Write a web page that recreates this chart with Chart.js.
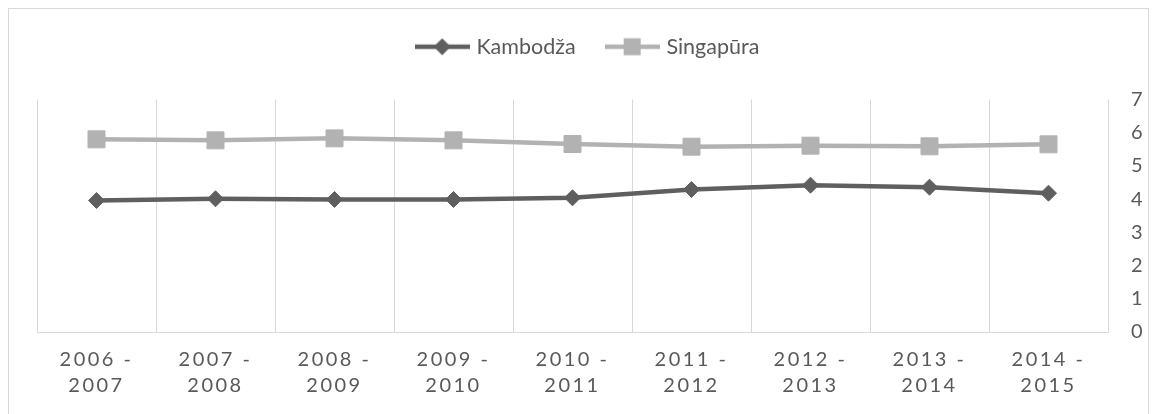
<!DOCTYPE html>
<html>
<head>
<meta charset="utf-8">
<script src="https://cdn.jsdelivr.net/npm/chart.js@4"></script>
<style>
html,body{margin:0;padding:0;background:#fff;}
canvas{display:block;}
</style>
</head>
<body>
<canvas id="c" width="1157" height="414"></canvas>
<script>
const categories = [
  ['2006 -', '2007'], ['2007 -', '2008'], ['2008 -', '2009'],
  ['2009 -', '2010'], ['2010 -', '2011'], ['2011 -', '2012'],
  ['2012 -', '2013'], ['2013 -', '2014'], ['2014 -', '2015']
];
const kambodza = [3.96, 4.01, 3.99, 3.99, 4.04, 4.29, 4.42, 4.36, 4.18];
const singapura = [5.80, 5.77, 5.83, 5.77, 5.66, 5.58, 5.61, 5.59, 5.65];
const seriesNames = ['Kambodža', 'Singapūra'];
const yTicks = [0, 1, 2, 3, 4, 5, 6, 7];

const darkColor = '#5f5f5f';
const lightColor = '#b2b2b2';
const textColor = '#595959';
const gridColor = '#d9d9d9';
const FONT = 'Lato, "Open Sans", sans-serif';

function legendIcon(color, shape) {
  const cv = document.createElement('canvas');
  cv.width = 55; cv.height = 22;
  const g = cv.getContext('2d');
  g.strokeStyle = color; g.fillStyle = color; g.lineWidth = 4.5;
  g.beginPath(); g.moveTo(0, 11); g.lineTo(55, 11); g.stroke();
  g.beginPath();
  if (shape === 'diamond') {
    g.moveTo(27.5, 2.5); g.lineTo(36, 11); g.lineTo(27.5, 19.5); g.lineTo(19, 11); g.closePath();
  } else {
    g.rect(19, 2.5, 17, 17);
  }
  g.fill();
  return cv;
}
const icons = [legendIcon(darkColor, 'diamond'), legendIcon(lightColor, 'square')];

const framePlugin = {
  id: 'frame',
  beforeLayout(chart) {
    const lg = chart.legend;
    if (lg && !lg._extraPatched) {
      const f = lg.fit.bind(lg);
      lg.fit = function () { f(); if (this.height > 0) this.height += 32; };
      const d = lg.draw.bind(lg);
      lg.draw = function () {
        const ctx = this.ctx;
        ctx.save();
        ctx.translate(-8, 0);
        d();
        ctx.restore();
      };
      lg._extraPatched = true;
    }
  },
  afterLayout(chart) {
    const s = chart.scales.x;
    if (s && !s._lsPatched) {
      const orig = s.drawLabels.bind(s);
      s.drawLabels = function (ca) {
        const ctx = this.ctx;
        ctx.save();
        ctx.letterSpacing = '2.5px';
        orig(ca);
        ctx.restore();
      };
      s._lsPatched = true;
    }
  },
  beforeDraw(chart) {
    const ctx = chart.ctx;
    ctx.save();
    ctx.fillStyle = '#fff';
    ctx.fillRect(0, 0, chart.width, chart.height);
    ctx.strokeStyle = gridColor;
    ctx.lineWidth = 1;
    ctx.strokeRect(8.5, 8.5, 1140, 430);
    ctx.restore();
  }
};

new Chart(document.getElementById('c'), {
  type: 'line',
  data: {
    labels: categories,
    datasets: [
      {
        label: seriesNames[0], data: kambodza,
        borderColor: darkColor, backgroundColor: darkColor,
        borderWidth: 4.5, tension: 0,
        pointStyle: 'rectRot', pointRadius: 8, pointBorderWidth: 1,
        pointBackgroundColor: darkColor, pointBorderColor: darkColor
      },
      {
        label: seriesNames[1], data: singapura,
        borderColor: lightColor, backgroundColor: lightColor,
        borderWidth: 4.5, tension: 0,
        pointStyle: 'rect', pointRadius: 12, pointBorderWidth: 1,
        pointBackgroundColor: lightColor, pointBorderColor: lightColor
      }
    ]
  },
  options: {
    responsive: false,
    animation: false,
    layout: { padding: { top: 3, left: 37, right: 0, bottom: 0 } },
    plugins: {
      tooltip: { enabled: false },
      legend: {
        position: 'top',
        align: 'center',
        labels: {
          usePointStyle: true,
          pointStyleWidth: 47,
          padding: 33,
          color: textColor,
          font: { family: FONT, size: 21.5 },
          generateLabels(chart) {
            return chart.data.datasets.map((ds, i) => ({
              text: ds.label,
              pointStyle: icons[i],
              fillStyle: ds.borderColor,
              strokeStyle: ds.borderColor,
              lineWidth: 0,
              fontColor: textColor,
              datasetIndex: i,
              hidden: false
            }));
          }
        }
      }
    },
    scales: {
      x: {
        type: 'category',
        offset: true,
        grid: { display: true, offset: true, color: gridColor, lineWidth: 1, drawTicks: false },
        border: { display: true, color: gridColor, width: 1 },
        ticks: {
          color: textColor,
          font: { family: FONT, size: 20, lineHeight: '26px' },
          padding: 15,
          maxRotation: 0,
          autoSkip: false
        },
        afterFit(scale) { scale.height = 82; }
      },
      y: {
        position: 'right',
        min: 0, max: 7,
        grid: { display: false, drawTicks: false },
        border: { display: false },
        afterBuildTicks(scale) { scale.ticks = yTicks.map(v => ({ value: v })); },
        ticks: {
          color: textColor,
          font: { family: FONT, size: 20 },
          padding: 23,
          stepSize: 1
        },
        afterFit(scale) { scale.width = 49; }
      }
    }
  },
  plugins: [framePlugin]
});
</script>
</body>
</html>
